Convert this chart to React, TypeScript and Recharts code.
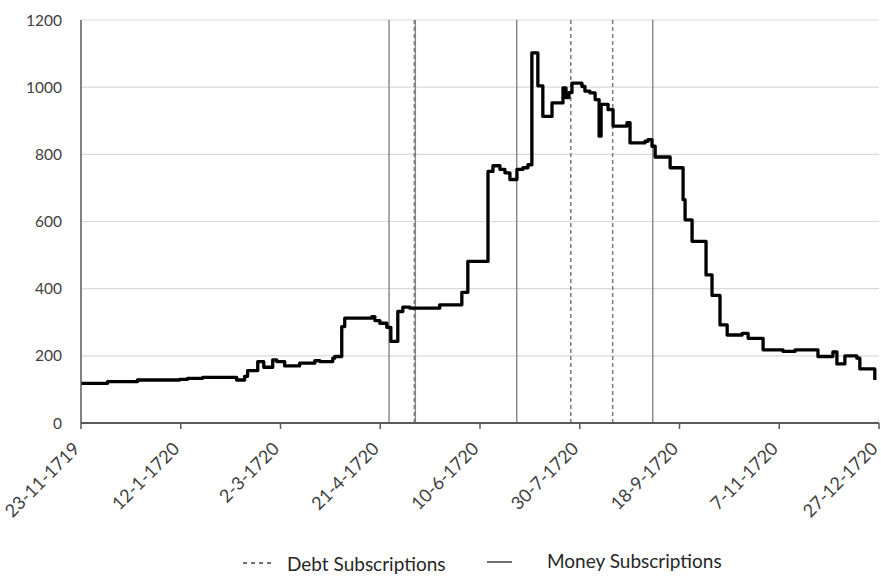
import React from "react";
import {
  ComposedChart,
  Line,
  XAxis,
  YAxis,
  CartesianGrid,
  ReferenceLine,
  Legend,
} from "recharts";

// Day index counted from 23-11-1719
const dayIndex = [
  0, 13.3, 28.3, 49.4, 53.4, 61.0, 78.0, 82.0, 83.5, 88.6, 91.6, 96.1, 98.1,
  102.1, 109.6, 117.2, 119.7, 126.2, 127.2, 130.7, 132.2, 143.8, 145.8, 147.3,
  149.8, 153.3, 155.3, 158.3, 158.8, 161.3, 164.8, 178.3, 179.8, 189.9, 190.9,
  193.4, 193.9, 203.5, 204.0, 206.5, 208.5, 210.0, 212.5, 215.0, 216.5, 218.5,
  221.5, 224.0, 225.5, 226.0, 228.5, 229.0, 231.0, 231.5, 234.1, 236.1, 241.1,
  241.6, 243.1, 244.6, 246.1, 249.1, 251.1, 252.6, 255.1, 257.7, 259.7, 260.7,
  263.7, 264.2, 266.7, 272.7, 273.7, 275.2, 280.2, 282.7, 284.2, 286.2, 287.8,
  293.8, 295.3, 300.3, 301.8, 302.8, 305.3, 306.3, 311.8, 313.3, 315.3, 316.3,
  319.3, 320.3, 323.9, 330.4, 331.4, 333.9, 334.4, 340.4, 341.9, 350.4, 351.9,
  356.9, 357.9, 367.9, 369.4, 375.4, 376.9, 378.9, 381.9, 382.9, 387.9, 388.9,
  390.4, 396.4, 397.9,
];

const price = [
  118, 123, 128, 130, 133, 136, 128, 139, 156, 183, 166, 188, 183,
  170, 178, 186, 183, 193, 198, 287, 312, 312, 317, 305,
  297, 285, 243, 243, 332, 345, 342, 342, 352, 352, 389,
  389, 481, 481, 749, 766, 766, 755, 745, 725, 725, 755,
  760, 769, 769, 1102, 1102, 1004, 1004, 913, 913, 953, 953,
  998, 969, 984, 1012, 1012, 1002, 988, 983, 963, 854, 949,
  949, 933, 884, 884, 894, 834, 834, 839, 844, 824, 792,
  792, 760, 760, 665, 605, 605, 541, 541, 441, 441, 380,
  380, 292, 262, 262, 267, 267, 252, 252, 218, 218, 213,
  213, 218, 218, 198, 198, 212, 176, 176, 200, 200, 193,
  161, 161, 128,
];

const tickDays = [0, 50, 100, 150, 200, 250, 300, 350, 400];
const tickLabels = [
  "23-11-1719",
  "12-1-1720",
  "2-3-1720",
  "21-4-1720",
  "10-6-1720",
  "30-7-1720",
  "18-9-1720",
  "7-11-1720",
  "27-12-1720",
];
const yTicks = [0, 200, 400, 600, 800, 1000, 1200];

const debtSubscriptionDays = [167.1, 245.5, 266.5];
const moneySubscriptionDays = [154.4, 167.6, 218.4, 286.6];

const seriesNames = ["Debt Subscriptions", "Money Subscriptions"];

const data = dayIndex.map((d, i) => ({ day: d, price: price[i] }));

const FONT = "Lato, 'Open Sans', sans-serif";
const TEXT_COLOR = "#404040";

const XTick = (props: any) => {
  const { x, y, payload } = props;
  const idx = tickDays.indexOf(payload.value);
  const label = idx >= 0 ? tickLabels[idx] : String(payload.value);
  return (
    <g transform={`translate(${x - 5},${y + 14})`}>
      <text
        x={0}
        y={0}
        textAnchor="end"
        dominantBaseline="central"
        transform="rotate(-45)"
        fill={TEXT_COLOR}
        fontSize={18}
        fontFamily={FONT}
      >
        {label}
      </text>
    </g>
  );
};

const LegendContent = () => (
  <div
    style={{
      position: "relative",
      width: 881,
      height: 26,
      fontFamily: FONT,
      color: "#262626",
    }}
  >
    <svg width={881} height={26} style={{ position: "absolute", left: 0, top: 0 }}>
      <line x1={243} x2={272} y1={14} y2={14} stroke="#404040" strokeWidth={1.5} strokeDasharray="4 4" />
      <text x={287} y={14} dominantBaseline="central" fill="#262626" fontSize={19} fontFamily={FONT}>
        {seriesNames[0]}
      </text>
      <line x1={487} x2={512} y1={13} y2={13} stroke="#404040" strokeWidth={1.5} />
      <text x={547} y={11} dominantBaseline="central" fill="#262626" fontSize={19} fontFamily={FONT}>
        {seriesNames[1]}
      </text>
    </svg>
  </div>
);

export default function App() {
  return (
    <div style={{ position: "absolute", left: 0, top: 0, background: "#fff" }}>
      <ComposedChart
        width={881}
        height={579}
        data={data}
        margin={{ top: 20, right: 2, bottom: 4, left: 21 }}
      >
        <CartesianGrid vertical={false} stroke="#d9d9d9" strokeWidth={1.2} />
        <XAxis
          type="number"
          dataKey="day"
          domain={[0, 400]}
          ticks={tickDays}
          interval={0}
          tick={<XTick />}
          height={126}
          axisLine={{ stroke: "#595959", strokeWidth: 1.8 }}
          tickLine={{ stroke: "#595959", strokeWidth: 1.5 }}
          tickSize={6}
          allowDataOverflow
        />
        <YAxis
          type="number"
          domain={[0, 1200]}
          ticks={yTicks}
          interval={0}
          width={60}
          tick={{ fill: TEXT_COLOR, fontSize: 15.5, fontFamily: FONT }}
          axisLine={{ stroke: "#595959", strokeWidth: 1.5 }}
          tickLine={false}
          tickMargin={13}
        />
        {moneySubscriptionDays.map((d) => (
          <ReferenceLine
            key={`m${d}`}
            x={d}
            stroke="#858585"
            strokeWidth={1.4}
          />
        ))}
        {debtSubscriptionDays.map((d) => (
          <ReferenceLine
            key={`d${d}`}
            x={d}
            stroke="#7a7a7a"
            strokeWidth={1.5}
            strokeDasharray="4 3"
          />
        ))}
        <Line
          type="stepAfter"
          dataKey="price"
          stroke="#000"
          strokeWidth={3.3}
          dot={false}
          activeDot={false}
          isAnimationActive={false}
          strokeLinejoin="round"
        />
        <Legend
          verticalAlign="bottom"
          height={26}
          content={<LegendContent />}
          wrapperStyle={{ left: 0, width: 881 }}
        />
      </ComposedChart>
    </div>
  );
}
